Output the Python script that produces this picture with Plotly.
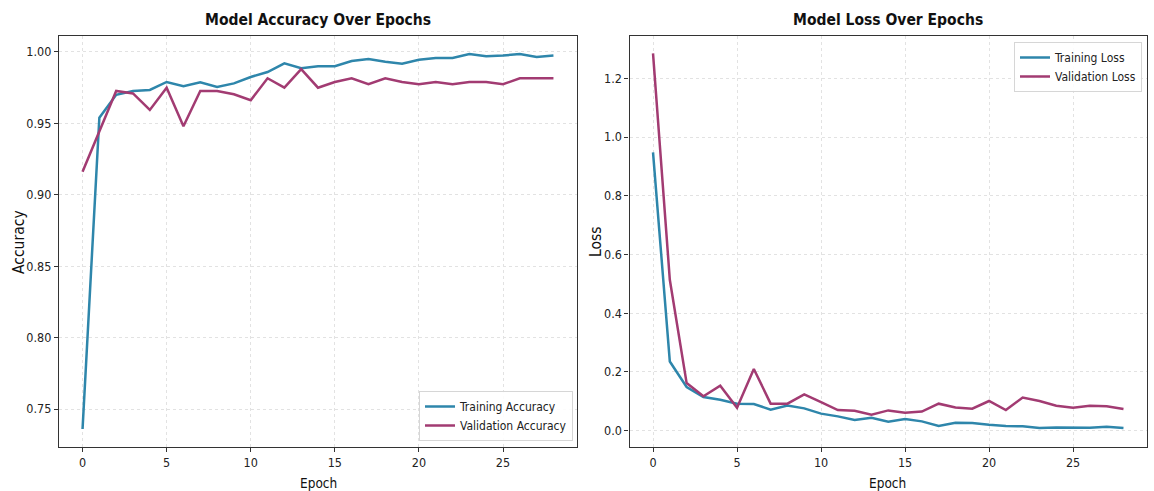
import plotly.graph_objects as go

epochs = list(range(29))

train_acc = [0.736, 0.954, 0.970, 0.9727, 0.9734, 0.979, 0.976, 0.9788, 0.9755, 0.978,
             0.9825, 0.986, 0.992, 0.9886, 0.990, 0.990, 0.9937, 0.995, 0.9932, 0.9918,
             0.9946, 0.9958, 0.9958, 0.9986, 0.997, 0.9975, 0.9986, 0.9965, 0.9975]
val_acc = [0.9162, 0.9445, 0.9727, 0.971, 0.9594, 0.975, 0.948, 0.9727, 0.9727, 0.9704,
           0.9662, 0.9816, 0.975, 0.988, 0.975, 0.979, 0.9816, 0.9774, 0.9816, 0.979,
           0.9774, 0.979, 0.9774, 0.979, 0.979, 0.9774, 0.9816, 0.9816, 0.9816]

train_loss = [0.948, 0.2357, 0.1485, 0.1145, 0.105, 0.092, 0.091, 0.0714, 0.086, 0.076,
              0.058, 0.0487, 0.0363, 0.044, 0.0306, 0.0397, 0.0317, 0.016, 0.027, 0.026,
              0.020, 0.016, 0.015, 0.009, 0.011, 0.010, 0.010, 0.013, 0.009]
val_loss = [1.285, 0.514, 0.162, 0.117, 0.153, 0.078, 0.21, 0.092, 0.092, 0.1235,
            0.0975, 0.070, 0.068, 0.0544, 0.069, 0.061, 0.065, 0.092, 0.079, 0.075,
            0.101, 0.070, 0.113, 0.101, 0.085, 0.078, 0.085, 0.083, 0.074]

acc_ticks = [0.75, 0.80, 0.85, 0.90, 0.95, 1.00]
loss_ticks = [0.0, 0.2, 0.4, 0.6, 0.8, 1.0, 1.2]
epoch_ticks = [0, 5, 10, 15, 20, 25]

TEAL = "#2E86AB"
PLUM = "#A23B72"
FONT = "DejaVu Sans Condensed, DejaVu Sans, sans-serif"
W, H = 1154, 491

fig = go.Figure()
fig.add_trace(go.Scatter(x=epochs, y=train_acc, mode="lines", name="Training Accuracy",
                         line=dict(color=TEAL, width=2.5), xaxis="x", yaxis="y", legend="legend"))
fig.add_trace(go.Scatter(x=epochs, y=val_acc, mode="lines", name="Validation Accuracy",
                         line=dict(color=PLUM, width=2.5), xaxis="x", yaxis="y", legend="legend"))
fig.add_trace(go.Scatter(x=epochs, y=train_loss, mode="lines", name="Training Loss",
                         line=dict(color=TEAL, width=2.5), xaxis="x2", yaxis="y2", legend="legend2"))
fig.add_trace(go.Scatter(x=epochs, y=val_loss, mode="lines", name="Validation Loss",
                         line=dict(color=PLUM, width=2.5), xaxis="x2", yaxis="y2", legend="legend2"))

def px_x(p):
    return p / W

def px_y(p):
    return 1 - p / H

ydom = [px_y(447), px_y(36)]
axis_common = dict(showline=True, mirror=True, linecolor="#333333", linewidth=1.2,
                   ticks="outside", ticklen=4, tickcolor="#333333",
                   showgrid=True, gridcolor="#e2e2e2", griddash="3px,3px", gridwidth=1,
                   zeroline=False, tickfont=dict(family=FONT, size=12.5, color="#222222"))

span_e = 28 * 0.05
legend_common = dict(bgcolor="rgba(255,255,255,0.9)", bordercolor="#d6d6d6", borderwidth=1,
                     itemwidth=30, tracegroupgap=0,
                     font=dict(family=FONT, size=12, color="#222222"))
fig.update_layout(
    width=W, height=H,
    margin=dict(l=0, r=0, t=0, b=0),
    paper_bgcolor="white", plot_bgcolor="white",
    font=dict(family=FONT, size=12, color="#222222"),
    xaxis=dict(domain=[px_x(59), px_x(577)], range=[-span_e, 28 + span_e],
               tickvals=epoch_ticks, anchor="y", **axis_common),
    yaxis=dict(domain=ydom, range=[0.7234, 1.0112], tickvals=acc_ticks,
               tickformat=".2f", anchor="x", **axis_common),
    xaxis2=dict(domain=[px_x(629.5), px_x(1147)], range=[-span_e, 28 + span_e],
                tickvals=epoch_ticks, anchor="y2", **axis_common),
    yaxis2=dict(domain=ydom, range=[-0.0556, 1.344], tickvals=loss_ticks,
                tickformat=".1f", anchor="x2", **axis_common),
    legend=dict(x=px_x(573), y=px_y(441), xanchor="right", yanchor="bottom", **legend_common),
    legend2=dict(x=px_x(1142), y=px_y(42), xanchor="right", yanchor="top", **legend_common),
    showlegend=True,
)

anns = [
    dict(text="<b>Model Accuracy Over Epochs</b>", x=px_x(318), y=px_y(20), font=dict(size=15.5)),
    dict(text="<b>Model Loss Over Epochs</b>", x=px_x(888), y=px_y(20), font=dict(size=15.5)),
    dict(text="Epoch", x=px_x(318), y=px_y(483), font=dict(size=13.5)),
    dict(text="Epoch", x=px_x(888), y=px_y(483), font=dict(size=13.5)),
    dict(text="Accuracy", x=px_x(19), y=px_y(242), textangle=-90, font=dict(size=15.5)),
    dict(text="Loss", x=px_x(596), y=px_y(242), textangle=-90, font=dict(size=15.5)),
]
for a in anns:
    a.update(xref="paper", yref="paper", showarrow=False, xanchor="center", yanchor="middle")
    a["font"].update(family=FONT, color="#111111")
fig.update_layout(annotations=anns)

fig.write_html("out.html", config={"displayModeBar": False},
               post_script="document.body.style.margin='0';document.body.style.overflow='hidden';")
